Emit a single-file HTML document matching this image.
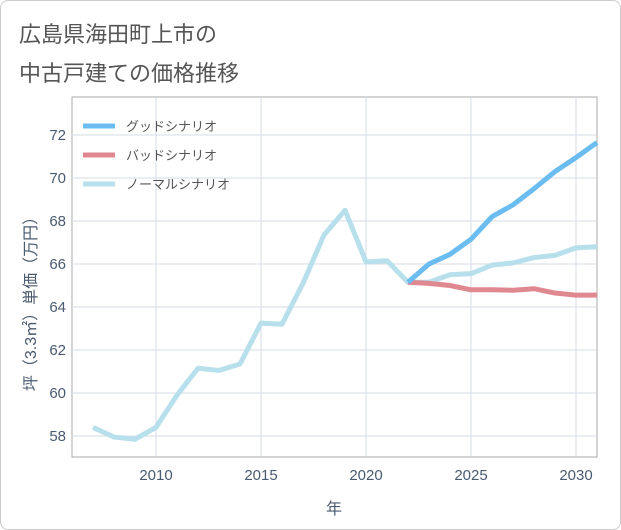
<!DOCTYPE html>
<html><head><meta charset="utf-8">
<style>
body{margin:0;background:#fff;}
#wrap{position:relative;width:619px;height:528px;border:1px solid #ccc;border-radius:8px;background:#fff;overflow:hidden;}
.title{position:absolute;left:18px;font:22px "Liberation Sans","Noto Sans CJK JP",sans-serif;color:#555;}
svg text{font-family:"Liberation Sans","Noto Sans CJK JP",sans-serif;}
</style></head><body>
<div id="wrap">
<div class="title" style="top:16px">広島県海田町上市の</div>
<div class="title" style="top:55px">中古戸建ての価格推移</div>
<svg id="chart" width="621" height="530" style="position:absolute;left:-1px;top:-1px"></svg>
</div>
<script>
const years=[2007,2008,2009,2010,2011,2012,2013,2014,2015,2016,2017,2018,2019,2020,2021,2022,2023,2024,2025,2026,2027,2028,2029,2030,2031];
const normal=[58.4,57.95,57.85,58.4,59.9,61.15,61.05,61.35,63.25,63.2,65.1,67.35,68.5,66.1,66.15,65.15,65.15,65.5,65.55,65.95,66.05,66.3,66.4,66.75,66.8];
const futureYears=[2022,2023,2024,2025,2026,2027,2028,2029,2030,2031];
const good=[65.15,66.0,66.45,67.15,68.2,68.75,69.5,70.3,70.95,71.65];
const bad=[65.15,65.1,65.0,64.8,64.8,64.78,64.85,64.65,64.55,64.55];
const xTicks=[2010,2015,2020,2025,2030];
const yTicks=[58,60,62,64,66,68,70,72];
const L=72,R=597,T=97,B=457;
const x=v=>L+(v-2006)*(R-L)/25;
const y=v=>436-(v-58)*(436-135)/14;
const svg=document.getElementById('chart');
const NS='http://www.w3.org/2000/svg';
function mk(tag,attrs,parent){const e=document.createElementNS(NS,tag);for(const k in attrs)e.setAttribute(k,attrs[k]);(parent||svg).appendChild(e);return e;}
const bg=mk('rect',{x:L,y:T,width:R-L,height:B-T,fill:'#fff',stroke:'#aaa','stroke-width':1});


xTicks.forEach(t=>{
 const g=mk('line',{x1:x(t),x2:x(t),y1:T,y2:B,stroke:'#d5dde6'});
 
 
 const tx=mk('text',{x:x(t),y:480,'text-anchor':'middle','font-size':15,fill:'#4a5a70'});tx.textContent=t;
 
 
});
yTicks.forEach(t=>{
 const g=mk('line',{x1:L,x2:R,y1:y(t),y2:y(t),stroke:'#d5dde6'});
 
 
 const tx=mk('text',{x:66,y:y(t)+5,'text-anchor':'end','font-size':15,fill:'#4a5a70'});tx.textContent=t;
 
 
});
function line(xs,ys,color,name){
 const p=mk('polyline',{points:xs.map((v,i)=>x(v)+','+y(ys[i])).join(' '),fill:'none',stroke:color,'stroke-width':5,'stroke-linejoin':'round'});
 
 
}
line(years,normal,'#b7dfec','normal-scenario-line');
line(futureYears,bad,'#e08890','bad-scenario-line');
line(futureYears,good,'#6bbcf0','good-scenario-line');
const legend=[['グッドシナリオ','#6bbcf0'],['バッドシナリオ','#e08890'],['ノーマルシナリオ','#b7dfec']];
legend.forEach((l,i)=>{
 const yy=126+i*29;
 const ln=mk('line',{x1:83,x2:115,y1:yy,y2:yy,stroke:l[1],'stroke-width':5});
 
 
 const tx=mk('text',{x:126,y:yy+5,'font-size':13,fill:'#555'});tx.textContent=l[0];
 
 
});
const xt=mk('text',{x:334,y:514,'text-anchor':'middle','font-size':16,fill:'#4a5a70'});xt.textContent='年';


const yt=mk('text',{x:0,y:0,'text-anchor':'middle','font-size':16,fill:'#4a5a70',transform:'translate(36,300) rotate(-90)'});yt.textContent='坪（3.3㎡）単価（万円）';


</script>
</body></html>
